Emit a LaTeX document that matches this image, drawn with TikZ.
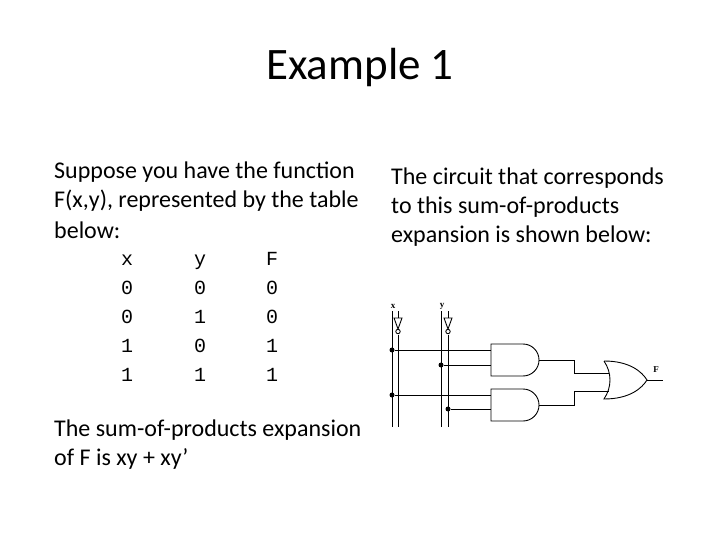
\documentclass[tikz,border=0pt]{standalone}
\usepackage{fontspec}
\setmainfont{Carlito}
\newfontfamily\monof{Liberation Mono}
\newfontfamily\serf{Liberation Serif}
\tikzset{
  txt/.style={anchor=west,inner sep=0pt,font=\fontsize{24}{28}\selectfont},
  tab/.style={inner sep=0pt,font=\monof\fontsize{20}{22}\selectfont},
  wire/.style={line width=0.9pt},
  gate/.style={draw,line width=0.9pt},
  dot/.style={circle,fill,inner sep=0pt,minimum size=5pt},
  lab/.style={inner sep=0pt,font=\serf\bfseries\fontsize{9}{10}\selectfont}
}
\begin{document}
\begin{tikzpicture}[x=1pt,y=-1pt]
\useasboundingbox (0,0) rectangle (720,540);
\node[inner sep=0pt,font=\fontsize{45}{50}\selectfont] (title) at (360,68) {Example 1};
\node[txt] (l1) at (54,172) {Suppose you have the function};
\node[txt] (l2) at (54,201) {F(x,y), represented by the table};
\node[txt] (l3) at (54,230) {below:};
\foreach \r/\a/\b/\c in {0/x/y/F,1/0/0/0,2/0/1/0,3/1/0/1,4/1/1/1}{
  \node[tab,anchor=base] (ta\r) at (127,265+29*\r) {\a};
  \node[tab,anchor=base] (tb\r) at (200,265+29*\r) {\b};
  \node[tab,anchor=base] (tc\r) at (272,265+29*\r) {\c};
}
\node[txt] (b1) at (54,430) {The sum-of-products expansion};
\node[txt] (b2) at (54,459) {of F is xy + xy’};
\node[txt] (r1) at (391,178) {The circuit that corresponds};
\node[txt] (r2) at (391,207) {to this sum-of-products};
\node[txt] (r3) at (391,236) {expansion is shown below:};
% circuit
\node[lab] (lx) at (393,306) {x};
\node[lab] (ly) at (442,306) {y};
\coordinate (xt) at (392,311); \coordinate (xb) at (392,427);
\coordinate (yt) at (441,311); \coordinate (yb) at (441,427);
\coordinate (xnt) at (398,311); \coordinate (xnb) at (398,427);
\coordinate (ynt) at (448,311); \coordinate (ynb) at (448,427);
\draw[wire] (xt)--(xb); \draw[wire] (yt)--(yb);
\draw[wire] (xnt)--(398,318); \draw[wire] (398,334.5)--(xnb);
\draw[wire] (ynt)--(448,318); \draw[wire] (448,334.5)--(ynb);
\draw[gate] (394,318)--(402,318)--(398,329)--cycle;
\draw[gate] (398,331.5) circle (2.2);
\draw[gate] (444,318)--(452,318)--(448,329)--cycle;
\draw[gate] (448,331.5) circle (2.2);
% AND gates
\draw[gate] (491,344)--(523,344) arc (-90:90:16)--(491,376)--cycle;
\draw[gate] (491,389)--(523,389) arc (-90:90:16)--(491,421)--cycle;
% OR gate
\draw[gate] (604,361) .. controls (630,361) and (642,372) .. (647,380)
  .. controls (642,388) and (630,399) .. (604,399)
  .. controls (612,387) and (612,373) .. (604,361);
\node[dot] (d1) at (392,350) {};
\node[dot] (d2) at (441,365) {};
\node[dot] (d3) at (392,395) {};
\node[dot] (d4) at (448,409) {};
\draw[wire] (d1)--(491,350); \draw[wire] (d2)--(491,365);
\draw[wire] (d3)--(491,395); \draw[wire] (d4)--(491,409);
\draw[wire] (539,360)--(574,360)--(574,373)--(609,373);
\draw[wire] (539,405)--(574,405)--(574,391)--(609,391);
\coordinate (fo) at (663,380);
\draw[wire] (647,380)--(fo);
\node[lab] (lf) at (656,370) {F};
\end{tikzpicture}
\end{document}
